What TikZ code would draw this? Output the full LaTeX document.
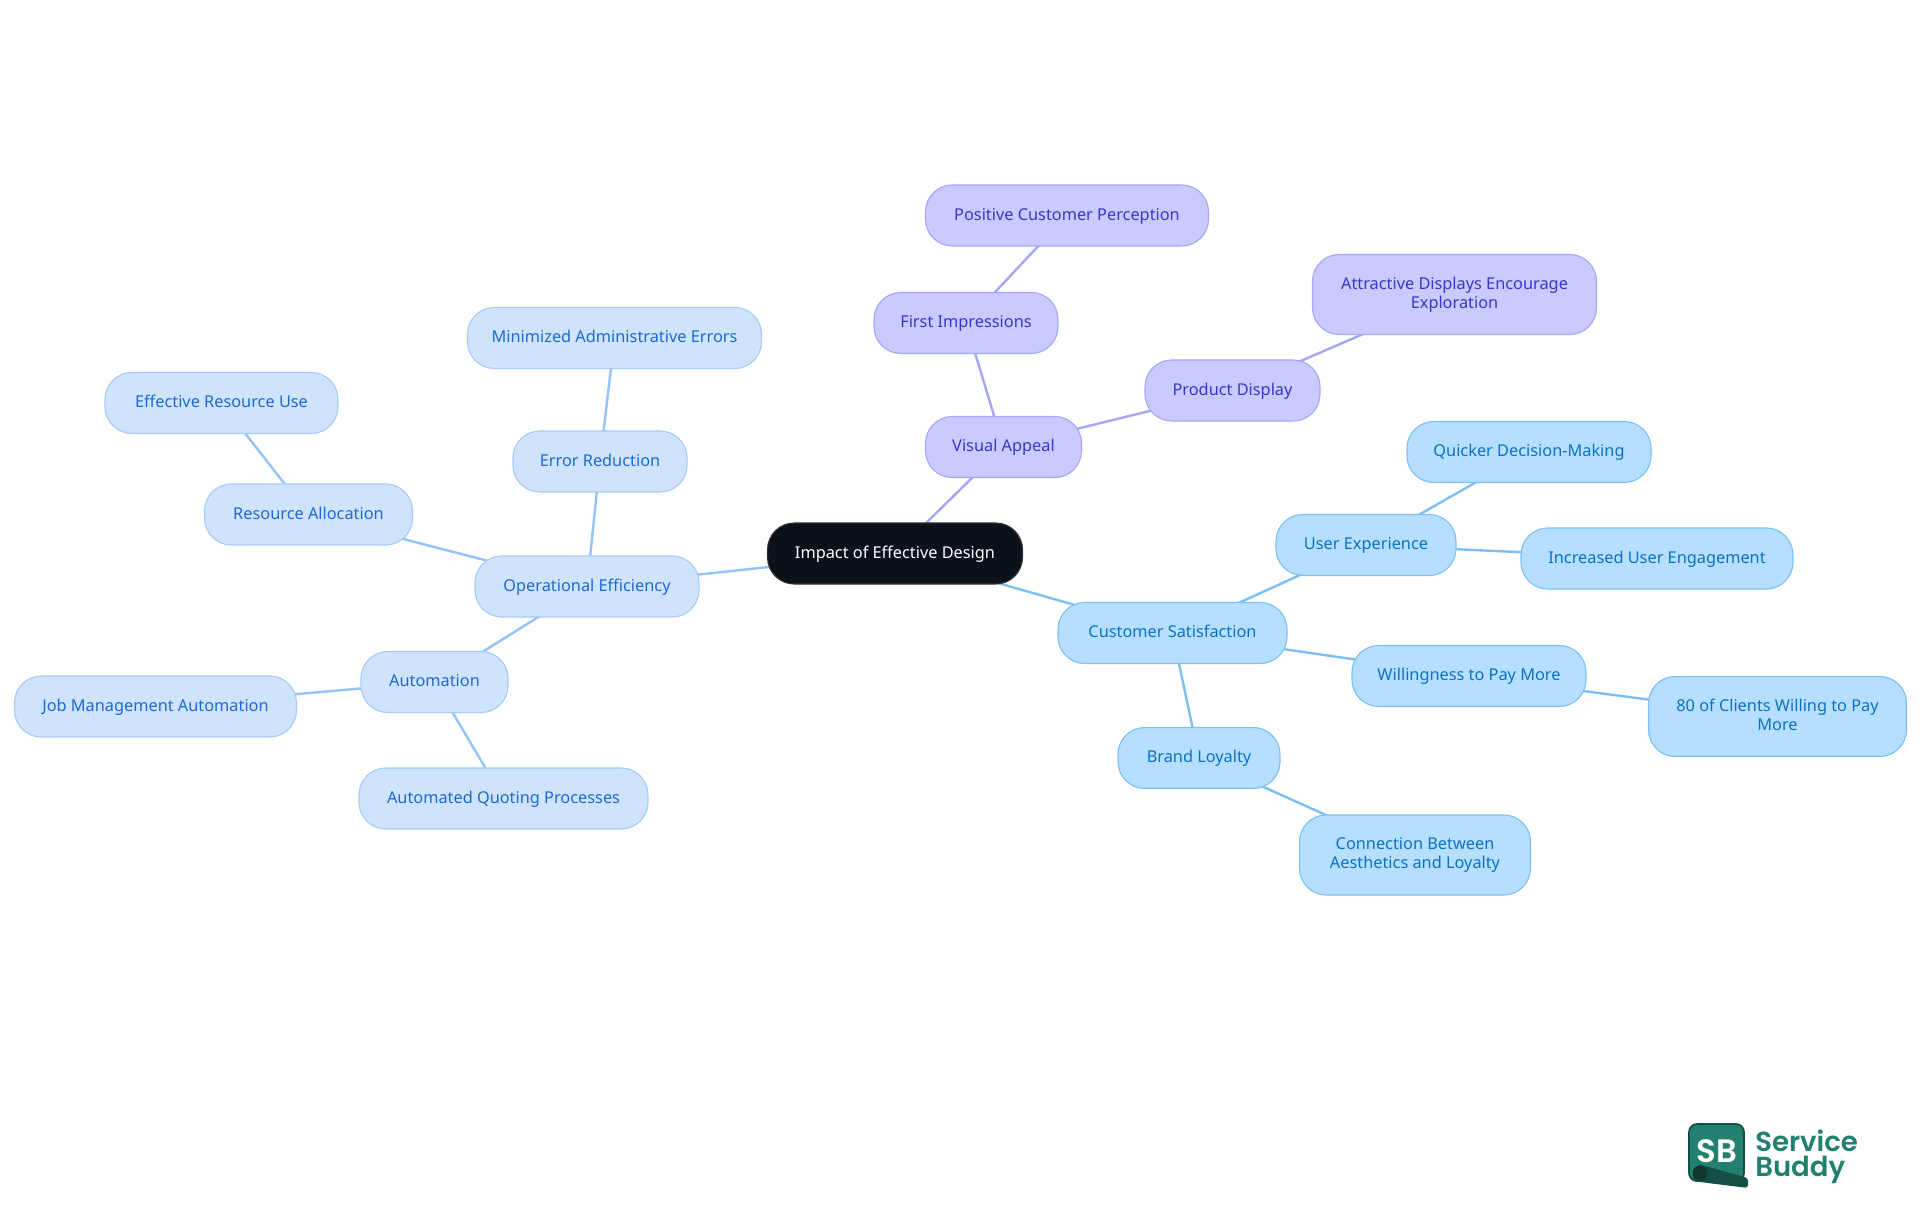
\documentclass[tikz,border=0pt]{standalone}
\usepackage{fontspec}
\setmainfont{Noto Sans}
\newfontfamily\logofont[BoldFont=Poppins SemiBold]{Poppins}
\usetikzlibrary{backgrounds}
\definecolor{rootfill}{HTML}{0B1119}
\definecolor{violetfill}{HTML}{C9CAFF}
\definecolor{violetline}{HTML}{A4A6F6}
\definecolor{violettext}{HTML}{3A35CC}
\definecolor{bluefill}{HTML}{CFE3FD}
\definecolor{blueline}{HTML}{A5CBF7}
\definecolor{blueedge}{HTML}{93C2F5}
\definecolor{bluetext}{HTML}{1C6AD2}
\definecolor{skyfill}{HTML}{B6DFFF}
\definecolor{skyline}{HTML}{7CC0F3}
\definecolor{skytext}{HTML}{0A72C6}
\definecolor{logogreen}{HTML}{21806F}
\definecolor{logodark}{HTML}{154F43}
\newcommand{\mapstrut}{\rule[-2.4pt]{0pt}{11.7pt}}
\tikzset{
  wd/.style={minimum width=#1*0.025cm},
  mapnode/.style={rounded corners=0.67cm,minimum height=1.525cm,inner sep=0pt,align=center,
    line width=0.8pt,font=\fontsize{11.6}{13.2}\selectfont,
    execute at begin node=\mapstrut,execute at end node=\mapstrut},
  rootnode/.style={mapnode,fill=rootfill,draw=rootfill!85!white,text=white},
  violetnode/.style={mapnode,fill=violetfill,draw=violetline,text=violettext},
  bluenode/.style={mapnode,fill=bluefill,draw=blueline,text=bluetext},
  skynode/.style={mapnode,fill=skyfill,draw=skyline,text=skytext},
  tallnode/.style={minimum height=2cm},
  edge/.style={line width=1.7pt},
  logotext/.style={text=logogreen,font=\logofont\bfseries\fontsize{19.6}{19.6}\selectfont,inner sep=0pt,anchor=base west},
}
\begin{document}
\begin{tikzpicture}[x=0.025cm,y=-0.025cm]
  \useasboundingbox (0,0) rectangle (1920,1215);
  % centre
  \node[rootnode,wd=255] (root) at (895,553.5) {Impact of Effective Design};
  % visual appeal branch
  \node[violetnode,wd=156] (visual) at (1003.5,447) {Visual Appeal};
  \node[violetnode,wd=184] (first) at (966,323) {First Impressions};
  \node[violetnode,wd=283] (positive) at (1067,215.5) {Positive Customer Perception};
  \node[violetnode,wd=175] (product) at (1232.5,390.5) {Product Display};
  \node[violetnode,tallnode,wd=284] (attractive) at (1454.5,294.5) {Attractive Displays Encourage\\Exploration};
  % customer satisfaction branch
  \node[skynode,wd=229] (customer) at (1172.5,633) {Customer Satisfaction};
  \node[skynode,wd=180] (user) at (1366,545) {User Experience};
  \node[skynode,wd=244] (quicker) at (1529,452) {Quicker Decision-Making};
  \node[skynode,wd=272] (increased) at (1657,558.5) {Increased User Engagement};
  \node[skynode,wd=234] (willing) at (1469,676) {Willingness to Pay More};
  \node[skynode,tallnode,wd=258] (clients) at (1777.5,716.5) {80 of Clients Willing to Pay\\More};
  \node[skynode,wd=162] (brand) at (1199,758) {Brand Loyalty};
  \node[skynode,tallnode,wd=231] (connection) at (1415,855) {Connection Between\\Aesthetics and Loyalty};
  % operational efficiency branch
  \node[bluenode,wd=224] (operational) at (587,586.5) {Operational Efficiency};
  \node[bluenode,wd=174] (error) at (600,461.5) {Error Reduction};
  \node[bluenode,wd=294] (minimized) at (614.5,338) {Minimized Administrative Errors};
  \node[bluenode,wd=208] (resource) at (308.5,514.5) {Resource Allocation};
  \node[bluenode,wd=233] (effective) at (221.5,403) {Effective Resource Use};
  \node[bluenode,wd=147] (automation) at (434.5,682) {Automation};
  \node[bluenode,wd=282] (job) at (155.5,706.5) {Job Management Automation};
  \node[bluenode,wd=289] (quoting) at (503.5,798.5) {Automated Quoting Processes};
  % connectors behind the boxes
  \begin{scope}[on background layer]
    \draw[edge,violetline] (root.center) -- (visual.center);
    \draw[edge,violetline] (visual.center) -- (first.center);
    \draw[edge,violetline] (first.center) -- (positive.center);
    \draw[edge,violetline] (visual.center) -- (product.center);
    \draw[edge,violetline] (product.center) -- (attractive.center);
    \draw[edge,skyline] (root.center) -- (customer.center);
    \draw[edge,skyline] (customer.center) -- (user.center);
    \draw[edge,skyline] (user.center) -- (quicker.center);
    \draw[edge,skyline] (user.center) -- (increased.center);
    \draw[edge,skyline] (customer.center) -- (willing.center);
    \draw[edge,skyline] (willing.center) -- (clients.center);
    \draw[edge,skyline] (customer.center) -- (brand.center);
    \draw[edge,skyline] (brand.center) -- (connection.center);
    \draw[edge,blueedge] (root.center) -- (operational.center);
    \draw[edge,blueedge] (operational.center) -- (error.center);
    \draw[edge,blueedge] (error.center) -- (minimized.center);
    \draw[edge,blueedge] (operational.center) -- (resource.center);
    \draw[edge,blueedge] (resource.center) -- (effective.center);
    \draw[edge,blueedge] (operational.center) -- (automation.center);
    \draw[edge,blueedge] (automation.center) -- (job.center);
    \draw[edge,blueedge] (automation.center) -- (quoting.center);
  \end{scope}
  % logo
  \fill[logogreen,draw=logodark,line width=1.2pt,rounded corners=0.2cm] (1689,1124) rectangle (1744,1181);
  \node[text=white,font=\logofont\bfseries\fontsize{23}{23}\selectfont,inner sep=0pt] (sb) at (1717,1151) {SB};
  \fill[logodark,rounded corners=0.08cm] (1698,1164) -- (1748,1178) -- (1748,1188) -- (1692,1181) -- cycle;
  \fill[logodark!70!black] (1700,1173) circle (7.5);
  \node[logotext] (service) at (1755,1151) {Service};
  \node[logotext] (buddy) at (1755,1176) {Buddy};
\end{tikzpicture}
\end{document}
